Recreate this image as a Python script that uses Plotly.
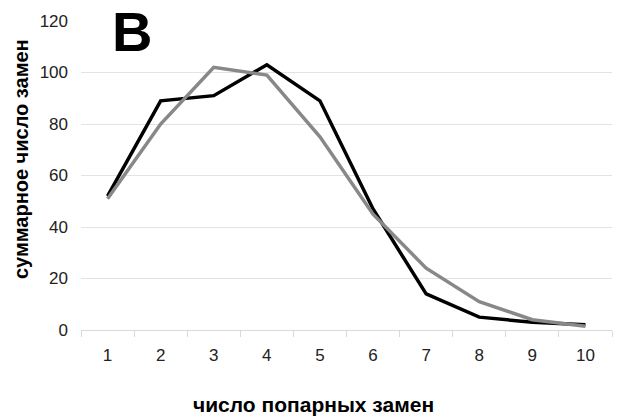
import plotly.graph_objects as go

# Number of pairwise substitutions (categories on the x axis)
categories = ["1", "2", "3", "4", "5", "6", "7", "8", "9", "10"]

# Total number of substitutions, two series
series_black = [52, 89, 91, 103, 89, 47, 14, 5, 3, 2]
series_gray = [51, 80, 102, 99, 75, 45, 24, 11, 4, 1.5]

y_ticks = [0, 20, 40, 60, 80, 100, 120]

FONT = "Liberation Sans, Arial, sans-serif"
W, H = 619, 416
L, R, T, B = 81, 7, 21, 86


def px_x(px):
    """Convert a horizontal pixel position to paper coordinates."""
    return (px - L) / (W - L - R)


def px_y(py):
    """Convert a vertical pixel position (from the top) to paper coordinates."""
    return 1 - (py - T) / (H - T - B)


fig = go.Figure()
fig.add_trace(go.Scatter(
    x=categories, y=series_black, mode="lines",
    line=dict(color="#000000", width=3.5), showlegend=False,
))
fig.add_trace(go.Scatter(
    x=categories, y=series_gray, mode="lines",
    line=dict(color="#888888", width=3.5), showlegend=False,
))

fig.update_layout(
    width=W, height=H,
    margin=dict(l=L, r=R, t=T, b=B),
    paper_bgcolor="white", plot_bgcolor="white",
    font=dict(family=FONT, size=17, color="#222222"),
    xaxis=dict(
        type="category", range=[-0.5, 9.5],
        tickson="boundaries", ticks="outside", ticklen=6,
        tickcolor="#d9d9d9", showgrid=False,
        showline=True, linecolor="#d9d9d9", linewidth=1,
        ticklabelstandoff=10,
        tickfont=dict(size=17, color="#222222"),
    ),
    yaxis=dict(
        range=[0, 120], tickvals=y_ticks,
        showgrid=True, gridcolor="#e3e3e3", gridwidth=1,
        zeroline=False, showline=False, ticks="",
        ticklabelstandoff=12,
        tickfont=dict(size=17, color="#222222"),
    ),
    annotations=[
        dict(
            text="<b>B</b>", x=px_x(132), y=px_y(31),
            xref="paper", yref="paper", xanchor="center", yanchor="middle",
            height=46, showarrow=False,
            font=dict(size=56, color="#000000", family=FONT),
        ),
        dict(
            text="<b>число попарных замен</b>", x=px_x(313), y=px_y(405),
            xref="paper", yref="paper", xanchor="center", yanchor="middle",
            showarrow=False,
            font=dict(size=21, color="#000000", family=FONT),
        ),
        dict(
            text="<b>суммарное число замен</b>", x=px_x(21), y=px_y(159),
            xref="paper", yref="paper", xanchor="center", yanchor="middle",
            textangle=-90, showarrow=False,
            font=dict(size=20, color="#000000", family=FONT),
        ),
    ],
)

fig.write_html("out.html")
